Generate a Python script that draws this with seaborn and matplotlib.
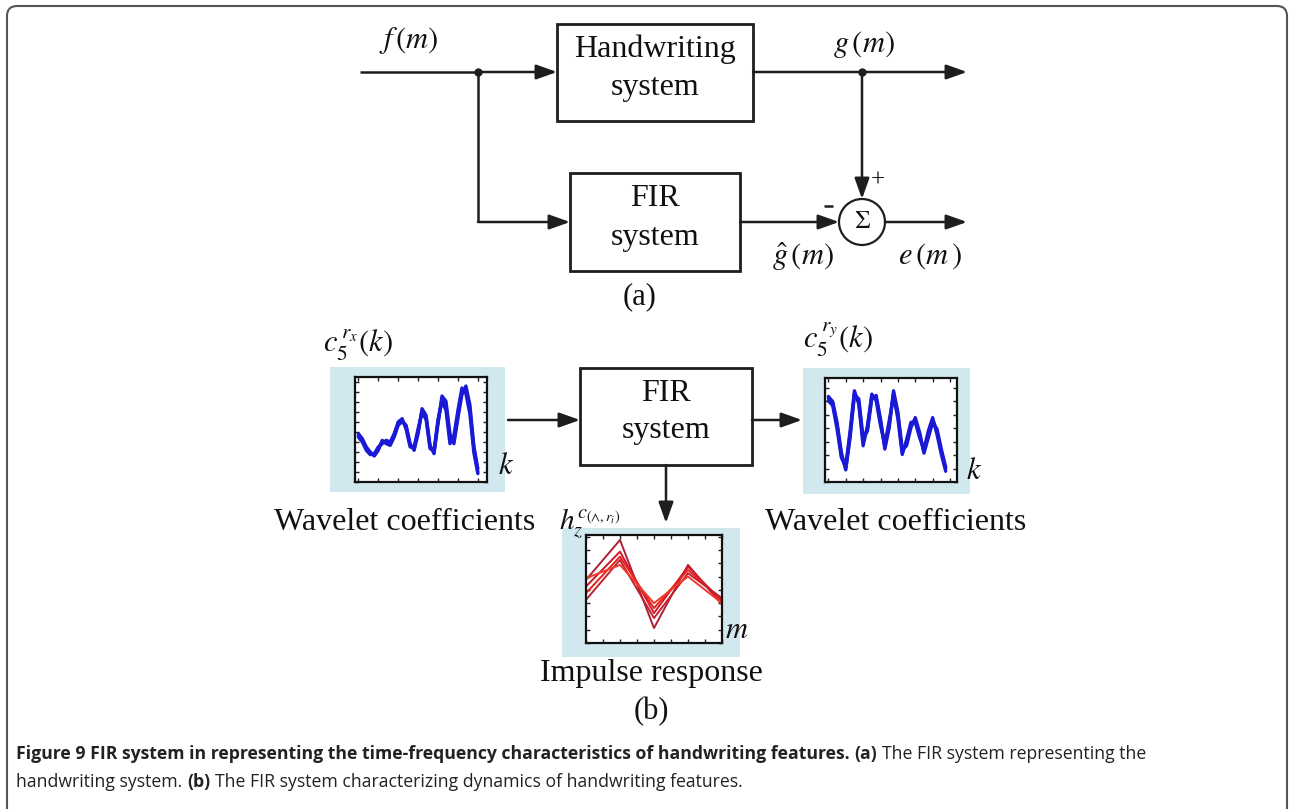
import numpy as np
import pandas as pd
import matplotlib
matplotlib.use("Agg")
import matplotlib.pyplot as plt
import seaborn as sns
from matplotlib.patches import Rectangle, Circle, FancyBboxPatch
from matplotlib.ticker import MaxNLocator

# ---------------- data ----------------
# wavelet coefficients of input feature c5^{rx}(k): three overlaid traces
wx_a = [1.40, 1.25, 1.00, 0.85, 0.80, 1.00, 1.22, 1.20, 1.15, 1.40, 1.75, 1.85, 1.65, 1.10, 1.00, 1.50,
        2.15, 1.95, 1.05, 0.90, 1.80, 2.50, 2.30, 1.30, 1.25, 2.00, 2.70, 2.80, 2.20, 1.00, 0.30]
wx_b = [1.35, 1.20, 0.95, 0.82, 0.85, 1.05, 1.15, 1.25, 1.20, 1.45, 1.80, 1.90, 1.58, 1.05, 1.05, 1.60,
        2.08, 1.88, 1.00, 0.95, 1.88, 2.42, 2.15, 1.15, 1.40, 2.15, 2.82, 2.65, 2.05, 0.88, 0.25]
wx_c = [1.45, 1.30, 1.05, 0.90, 0.78, 0.95, 1.25, 1.15, 1.10, 1.35, 1.70, 1.82, 1.70, 1.15, 0.95, 1.45,
        2.20, 2.00, 1.10, 0.85, 1.75, 2.58, 2.42, 1.45, 1.15, 1.92, 2.62, 2.88, 2.32, 1.08, 0.40]
# wavelet coefficients of output feature c5^{ry}(k)
wy_a = [2.50, 2.35, 1.70, 0.80, 0.40, 1.40, 2.65, 2.40, 1.20, 1.60, 2.55, 2.50, 1.80, 1.05, 1.70, 2.65,
        2.00, 0.90, 1.15, 1.70, 1.85, 1.40, 0.90, 1.40, 1.85, 1.50, 0.90, 0.40]
wy_b = [2.42, 2.28, 1.58, 0.72, 0.48, 1.52, 2.72, 2.32, 1.08, 1.68, 2.62, 2.42, 1.68, 1.12, 1.82, 2.58,
        1.88, 0.82, 1.26, 1.78, 1.78, 1.32, 0.98, 1.52, 1.92, 1.42, 0.82, 0.32]
wy_c = [2.55, 2.40, 1.78, 0.88, 0.36, 1.32, 2.58, 2.48, 1.32, 1.52, 2.48, 2.58, 1.88, 0.98, 1.62, 2.72,
        2.08, 0.98, 1.08, 1.62, 1.92, 1.48, 0.86, 1.32, 1.78, 1.58, 0.98, 0.44]
# impulse response h_z(m): five overlaid traces at m = 0, 2, 4, 6, 8
m_vals = [0, 2, 4, 6, 8]
h_a = [1.90, 3.10, 0.45, 2.35, 1.15]
h_b = [1.70, 2.75, 0.90, 2.30, 1.25]
h_c = [1.50, 2.60, 1.05, 2.20, 1.30]
h_d = [1.30, 2.50, 0.75, 2.10, 1.35]
h_e = [1.95, 2.35, 1.20, 2.00, 1.20]

caption_l1 = ["Figure 9 FIR system in representing the time-frequency characteristics of handwriting features.",
              "(a)", "The FIR system representing the"]
caption_l2 = ["handwriting system.", "(b)", "The FIR system characterizing dynamics of handwriting features."]
caption_bold_l1 = [True, True, False]
caption_bold_l2 = [False, True, False]

# ---------------- figure ----------------
W, H = 1294, 809
sns.set_theme(style="white")
plt.rcParams["font.family"] = ["Liberation Serif", "DejaVu Serif"]
plt.rcParams["mathtext.fontset"] = "stix"

fig = plt.figure(figsize=(W / 100, H / 100), dpi=100)
fig.patch.set_facecolor("white")
ax = fig.add_axes([0, 0, 1, 1])
ax.set_xlim(0, W)
ax.set_ylim(H, 0)
ax.axis("off")

LC = "#1e1e1e"
LW = 1.8
BG = "#d2e8ef"


def line(xs, ys):
    ax.plot(xs, ys, color=LC, lw=LW, solid_capstyle="butt", zorder=3)


def arrow(x0, y0, x1, y1):
    ax.annotate("", xy=(x1, y1), xytext=(x0, y0),
                arrowprops=dict(arrowstyle="-|>,head_length=0.9,head_width=0.32", color=LC, lw=LW,
                                shrinkA=0, shrinkB=0, mutation_scale=14), zorder=3)


def box(x0, y0, x1, y1):
    ax.add_patch(Rectangle((x0, y0), x1 - x0, y1 - y0, fill=False, ec=LC, lw=2.0, zorder=3))


def txt(x, y, s, size=23, **kw):
    ax.text(x, y, s, ha="center", va="center", fontsize=size, color="#111", zorder=4, **kw)


# outer frame
ax.add_patch(FancyBboxPatch((7, 6), 1280, 830, boxstyle="round,pad=0,rounding_size=10",
                            fc="none", ec="#555555", lw=1.5, zorder=1, clip_on=False))

# ---------- (a) ----------
box(557, 24, 753, 121)
txt(655, 49, "Handwriting")
txt(655, 87, "system")
box(570, 173, 740, 271)
txt(655, 198, "FIR")
txt(655, 237, "system")

line([360, 478], [72, 72])
ax.plot([478], [72], "o", color=LC, ms=5, zorder=4)
arrow(478, 72, 557, 72)
arrow(753, 72, 967, 72)
ax.plot([862], [72], "o", color=LC, ms=5, zorder=4)
arrow(862, 72, 862, 199)
line([478, 478], [72, 222])
arrow(478, 222, 570, 222)
arrow(740, 222, 839, 222)
ax.add_patch(Circle((862, 222), 23, fill=False, ec=LC, lw=1.6, zorder=3))
txt(862, 222, r"$\Sigma$", size=18)
arrow(885, 222, 967, 222)
txt(878, 181, "+", size=18)
line([824, 833], [206, 206])

txt(409, 40, r"$f\,(m)$", size=22)
txt(864, 44, r"$g\,(m)$", size=22)
txt(803, 257, r"$\hat{g}\,(m)$", size=22)
txt(930, 256, r"$e\,(m\,)$", size=22)
txt(640, 297, "(a)", size=22)

# ---------- (b) ----------
box(580, 368, 752, 465)
txt(666, 393, "FIR")
txt(666, 430, "system")
arrow(508, 420, 580, 420)
arrow(752, 420, 802, 420)
arrow(666, 465, 666, 523)

for (x0, y0, x1, y1) in [(330, 367, 505, 492), (803, 368, 970, 494), (562, 528, 740, 657)]:
    ax.add_patch(Rectangle((x0, y0), x1 - x0, y1 - y0, fc=BG, ec="none", zorder=1))

txt(358, 345, r"$c_5^{\,r_x}(k)$", size=22)
txt(838, 340, r"$c_5^{\,r_y}(k)$", size=22)
txt(506, 466, r"$k$", size=22)
txt(974, 471, r"$k$", size=22)
txt(590, 524, r"$h_z^{c_{(\wedge,r_i)}}$", size=21)
txt(737, 630, r"$m$", size=22)
txt(405, 523, "Wavelet coefficients")
txt(896, 523, "Wavelet coefficients")
txt(651, 673, "Impulse response")
txt(651, 712, "(b)", size=22)


def inset(x0, y0, x1, y1):
    a = fig.add_axes([x0 / W, 1 - y1 / H, (x1 - x0) / W, (y1 - y0) / H])
    a.set_facecolor("white")
    for s in a.spines.values():
        s.set_visible(True)
        s.set_color("#111")
        s.set_linewidth(1.6)
    a.tick_params(direction="in", length=3, width=1, colors="#222", top=True, right=True,
                  bottom=True, left=True, labelbottom=False, labelleft=False)
    return a


def long_df(xs, traces):
    rows = []
    for i, tr in enumerate(traces):
        for x, v in zip(xs, tr):
            rows.append((x, v, i))
    return pd.DataFrame(rows, columns=["x", "v", "trace"])


# left wavelet plot
a1 = inset(355, 377, 487, 482)
d1 = long_df(list(range(len(wx_a))), [wx_a, wx_b, wx_c])
sns.lineplot(data=d1, x="x", y="v", units="trace", estimator=None, color="#1a1ad6", lw=2.4, ax=a1)
a1.set_xlim(-0.84, 32.3)
a1.set_ylim(0, 3.15)
a1.xaxis.set_major_locator(MaxNLocator(8))
a1.yaxis.set_major_locator(MaxNLocator(11))
a1.set_xlabel(""); a1.set_ylabel("")

# right wavelet plot
a2 = inset(825, 378, 957, 482)
d2 = long_df(list(range(len(wy_a))), [wy_a, wy_b, wy_c])
sns.lineplot(data=d2, x="x", y="v", units="trace", estimator=None, color="#1a1ad6", lw=2.4, ax=a2)
a2.set_xlim(-0.77, 29.6)
a2.set_ylim(0, 3.1)
a2.xaxis.set_major_locator(MaxNLocator(8))
a2.yaxis.set_major_locator(MaxNLocator(9))
a2.set_xlabel(""); a2.set_ylabel("")

# impulse response plot
a3 = inset(586, 535, 722, 643)
d3 = long_df(m_vals, [h_a, h_b, h_c, h_d, h_e])
sns.lineplot(data=d3, x="x", y="v", hue="trace", units="trace", estimator=None,
             palette=["#b02035", "#d01828", "#e8201c", "#c02030", "#f03a2a"], lw=1.4, legend=False, ax=a3)
a3.set_xlim(0, 8)
a3.set_ylim(0, 3.25)
a3.set_xticks(list(range(0, 9)))
a3.yaxis.set_major_locator(MaxNLocator(9))
a3.set_xlabel(""); a3.set_ylabel("")

# ---------- caption ----------
cap_family = ["Open Sans", "DejaVu Sans"]


def caption_line(x, y, pieces, bolds):
    prev = ax.text(x, y, pieces[0], ha="left", va="bottom", fontsize=12.7, color="#222",
                   family=cap_family, weight="bold" if bolds[0] else "normal")
    for s, b in zip(pieces[1:], bolds[1:]):
        prev = ax.annotate(s, xy=(1, 0), xycoords=prev, xytext=(3.5, 0), textcoords="offset points",
                           ha="left", va="bottom", fontsize=12.7, color="#222", family=cap_family,
                           weight="bold" if b else "normal")


caption_line(16, 763, caption_l1, caption_bold_l1)
caption_line(16, 791, caption_l2, caption_bold_l2)

fig.savefig("out.png", dpi=100, facecolor="white")
